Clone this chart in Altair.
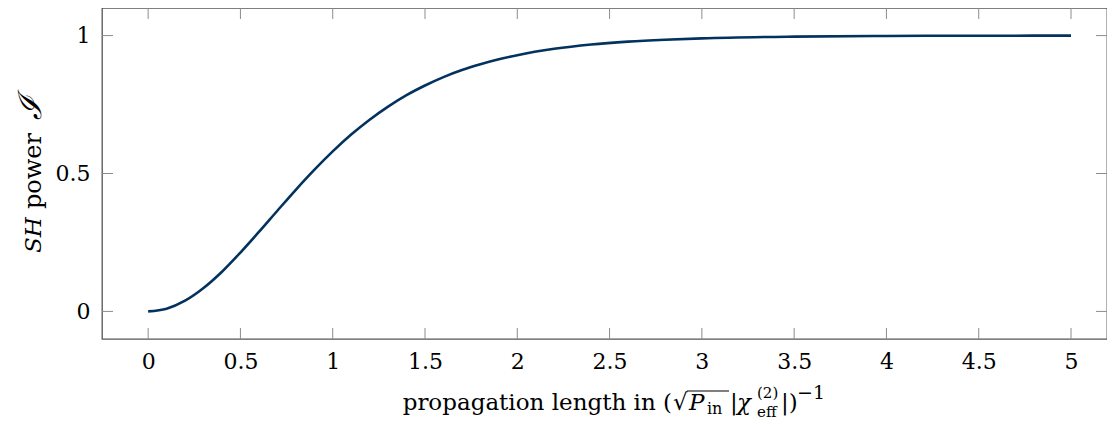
import altair as alt
import pandas as pd

# data
x_vals = [0, 0.1, 0.2, 0.3, 0.4, 0.5, 0.6, 0.7, 0.8, 0.9, 1.0, 1.1, 1.2, 1.3, 1.4,
          1.5, 1.6, 1.7, 1.8, 1.9, 2.0, 2.2, 2.4, 2.6, 2.8, 3.0, 3.5, 4.0, 4.5, 5.0]
y_vals = [0, 0.0099, 0.039, 0.085, 0.144, 0.2135, 0.288, 0.365, 0.441, 0.513, 0.580,
          0.641, 0.695, 0.7425, 0.784, 0.819, 0.8495, 0.875, 0.896, 0.914, 0.929,
          0.952, 0.9676, 0.978, 0.985, 0.990, 0.9963, 0.9987, 0.9995, 0.9998]
x_ticks = [0, 0.5, 1, 1.5, 2, 2.5, 3, 3.5, 4, 4.5, 5]
y_ticks = [0, 0.5, 1]

W, H = 1005, 331
FONT = "DejaVu Serif"
TICK = "#8c8c8c"
TL = 11

df = pd.DataFrame({"x": x_vals, "y": y_vals})
xt = pd.DataFrame({"x": x_ticks})
yt = pd.DataFrame({"y": y_ticks})
one = pd.DataFrame({"a": [0]})

xs = alt.Scale(domain=[-0.25, 5.195], nice=False, zero=False)
ys = alt.Scale(domain=[-0.1, 1.1], nice=False, zero=False)
xaxis = alt.Axis(values=x_ticks, title=None, domain=False, ticks=False, grid=False, labelPadding=12,
                 labelFontSize=22, labelFont=FONT, labelColor="black", labelFlush=False, format=".1~f")
yaxis = alt.Axis(values=y_ticks, title=None, domain=False, ticks=False, grid=False, labelPadding=12,
                 labelFontSize=22, labelFont=FONT, labelColor="black", labelFlush=False, format=".1~f")

curve = alt.Chart(df).mark_line(color="#03325f", strokeWidth=2.6, interpolate="monotone").encode(
    x=alt.X("x:Q", scale=xs, axis=xaxis),
    y=alt.Y("y:Q", scale=ys, axis=yaxis),
)

tb = alt.Chart(xt).mark_rule(color=TICK, strokeWidth=1).encode(
    x=alt.X("x:Q", scale=xs, axis=xaxis), y=alt.value(H), y2=alt.value(H - TL))
tt = alt.Chart(xt).mark_rule(color=TICK, strokeWidth=1).encode(
    x=alt.X("x:Q", scale=xs, axis=xaxis), y=alt.value(0), y2=alt.value(TL))
tl = alt.Chart(yt).mark_rule(color=TICK, strokeWidth=1).encode(
    y=alt.Y("y:Q", scale=ys, axis=yaxis), x=alt.value(0), x2=alt.value(TL))
tr = alt.Chart(yt).mark_rule(color=TICK, strokeWidth=1).encode(
    y=alt.Y("y:Q", scale=ys, axis=yaxis), x=alt.value(W - TL), x2=alt.value(W))


def txt(s, x, y, size=23, style="normal", align="left", angle=0):
    return alt.Chart(one).mark_text(text=s, font=FONT, fontSize=size, fontStyle=style, align=align,
                                    baseline="alphabetic", angle=angle, color="black").encode(
        x=alt.value(x), y=alt.value(y))


# x-axis title pieces
BY = 402
title_parts = [
    txt("propagation length in (", 570, BY, align="right"),
    txt("√", 571, BY),
    txt("P", 587, BY, style="italic"),
    txt("in", 605, BY + 4, size=16),
    txt("|", 628, BY),
    txt("χ", 635, BY, style="italic"),
    txt("(2)", 655, BY - 12, size=15),
    txt("eff", 655, BY + 7, size=15),
    txt("|)", 679, BY),
    txt("−1", 695, BY - 11, size=19),
]
overline = alt.Chart(one).mark_rule(color="black", strokeWidth=1.2).encode(
    x=alt.value(585), x2=alt.value(627), y=alt.value(383))

# y-axis title pieces
ytitle = [
    txt("SH", -61, 245, style="italic", angle=270),
    txt("power", -61, 201, size=24, angle=270),
    txt("ℐ", -61, 112, size=32, style="italic", angle=270),
]

chart = alt.layer(curve, tb, tt, tl, tr, overline, *title_parts, *ytitle).properties(
    width=W, height=H, autosize=alt.AutoSizeParams(type="none"),
    padding={"left": 94, "top": 0, "right": 0, "bottom": 81},
).configure_view(stroke="#555555", strokeWidth=1.3)

chart.save("out.html", embed_options={"renderer": "svg", "actions": False})
